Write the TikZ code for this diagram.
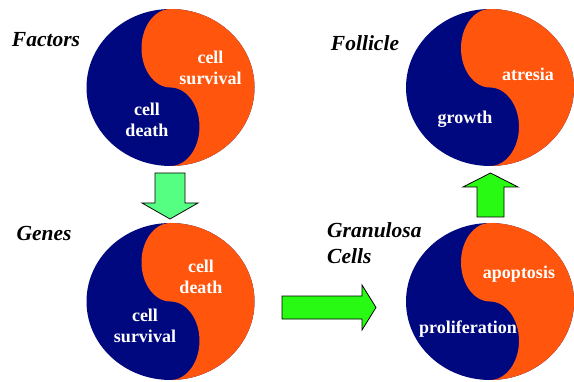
\documentclass[tikz,border=0pt]{standalone}
\usepackage{fontspec}
\setmainfont{Liberation Serif}
\usepackage{tikz}
\usetikzlibrary{positioning}

\definecolor{navy}{RGB}{0,8,128}
\definecolor{orangered}{RGB}{255,85,12}
\definecolor{mint}{RGB}{85,255,130}
\definecolor{brightgreen}{RGB}{40,250,20}

\tikzset{
  yinyang/.pic={
    \fill[navy] (0,0) ellipse [x radius=84, y radius=78.5];
    \fill[orangered] (0,78.5) arc[start angle=90, end angle=-90, x radius=84, y radius=78.5]
      arc[start angle=-90, end angle=90, x radius=29, y radius=39.25]
      arc[start angle=-90, end angle=-270, x radius=29, y radius=39.25] -- cycle;
  }
}

\begin{document}
\begin{tikzpicture} [x=1pt,y=1pt,
    heading/.style={font=\fontsize{21.5}{26}\selectfont\bfseries\itshape, inner sep=0pt},
    cellword/.style={text=white, font=\fontsize{18}{21}\selectfont\bfseries, align=center, inner sep=0pt},
    blockarrow/.style={draw=black, line width=0.8pt, line join=miter}]
  \useasboundingbox (0,0) rectangle (574,381);

  \coordinate (factors) at (170.5,293.5);
  \coordinate (follicle) at (490,293.5);
  \coordinate (genes) at (170.5,79.5);
  \coordinate (granulosa) at (490,79.5);

  \pic at (factors) {yinyang};
  \pic at (follicle) {yinyang};
  \pic at (genes) {yinyang};
  \pic at (granulosa) {yinyang};

  % texts inside the circles
  \node[cellword] (f1) at ([shift={(40,20)}]factors) {cell\\survival};
  \node[cellword] (f2) at ([shift={(-23.5,-32)}]factors) {cell\\death};
  \node[cellword] (l1) at ([shift={(38,13)}]follicle) {atresia};
  \node[cellword] (l2) at ([shift={(-25,-32)}]follicle) {growth};
  \node[cellword] (g1) at ([shift={(30.5,25)}]genes) {cell\\death};
  \node[cellword] (g2) at ([shift={(-25.5,-24)}]genes) {cell\\survival};
  \node[cellword] (c1) at ([shift={(29,27)}]granulosa) {apoptosis};
  \node[cellword] (c2) at ([shift={(-22,-28)}]granulosa) {proliferation};

  % titles
  \node[heading] (t1) at (46,341) {Factors};
  \node[heading] (t2) at (365,338) {Follicle};
  \node[heading] (t3) at (44,148) {Genes};
  \node[heading, anchor=west, align=left] (t4) at (327,138) {Granulosa\\Cells};

  % block arrows
  \draw[blockarrow, fill=mint] (155,208) -- (185,208) -- (185,178) -- (198,178)
    -- (170,162) -- (142,178) -- (155,178) -- cycle;
  \draw[blockarrow, fill=brightgreen] (477,164) -- (504,164) -- (504,194) -- (518,194)
    -- (490.5,208) -- (463,194) -- (477,194) -- cycle;
  \draw[blockarrow, fill=brightgreen] (282,62) -- (362,62) -- (362,51) -- (376,73.5)
    -- (362,96) -- (362,85) -- (282,85) -- cycle;
\end{tikzpicture}
\end{document}
